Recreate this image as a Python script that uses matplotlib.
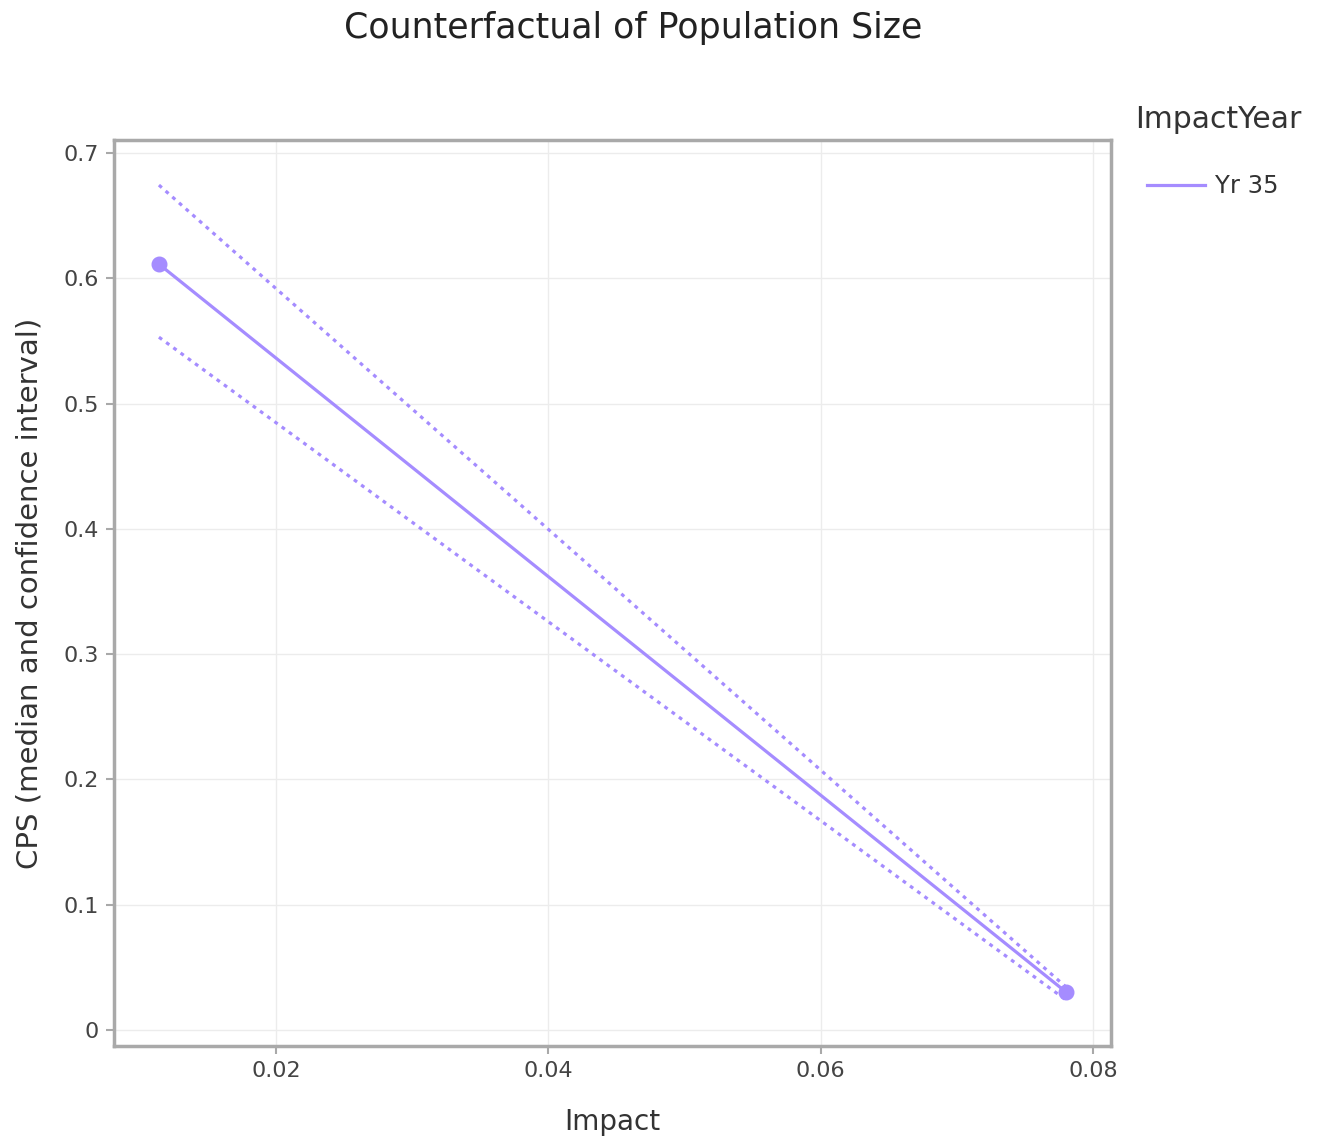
import numpy as np
import matplotlib.pyplot as plt
from matplotlib.ticker import FuncFormatter

impact = [0.01141, 0.07802]
cps_median = [0.6113, 0.0303]
cps_upper = [0.6744, 0.0343]
cps_lower = [0.5530, 0.0240]
series_label = 'Yr 35'

COLOR = '#a58cff'
GRID = '#ececec'
BORDER = '#a9a9a9'
TXT = '#444444'

fig = plt.figure(figsize=(13.21, 11.38), dpi=100)
ax = fig.add_axes([0.0863, 0.0808, 0.7547, 0.7962])

ax.plot(impact, cps_upper, color=COLOR, linestyle=(0, (1.2, 1.6)), linewidth=2.3)
ax.plot(impact, cps_lower, color=COLOR, linestyle=(0, (1.2, 1.6)), linewidth=2.3)
ax.plot(impact, cps_median, color=COLOR, linewidth=2.3, label=series_label)
ax.plot(impact, cps_median, 'o', color=COLOR, markersize=10.5)

ax.set_xlim(0.00811, 0.08132)
ax.set_ylim(-0.0128, 0.7104)
ax.set_xticks([0.02, 0.04, 0.06, 0.08])
ax.set_yticks(np.arange(0, 0.71, 0.1))
ax.yaxis.set_major_formatter(FuncFormatter(lambda v, p: '0' if abs(v) < 1e-9 else f'{v:.1f}'))
ax.grid(True, color=GRID, linewidth=1)
ax.set_axisbelow(True)
for s in ax.spines.values():
    s.set_color(BORDER)
    s.set_linewidth(2.5)
ax.tick_params(colors=BORDER, labelcolor=TXT, labelsize=16, length=6, width=1.5, pad=5)

ax.set_xlabel('Impact', fontsize=20, color='#333333', labelpad=19)
ax.set_ylabel('CPS (median and confidence interval)', fontsize=21, color='#333333', labelpad=14)
fig.suptitle('Counterfactual of Population Size', fontsize=25, color='#222222', x=0.479, y=0.99)

# legend title as separate text so the entry can be indented like the original
fig.text(1135 / 1321, 1 - 120 / 1138, 'ImpactYear', fontsize=21.5, color='#333333',
         ha='left', va='center')
leg = ax.legend(loc='center left', bbox_to_anchor=(1.036, 0.949),
                frameon=False, fontsize=17.5, handlelength=2.4,
                handletextpad=0.42, borderaxespad=0, borderpad=0)
for t in leg.get_texts():
    t.set_color('#333333')

plt.savefig('out.png', dpi=100)
